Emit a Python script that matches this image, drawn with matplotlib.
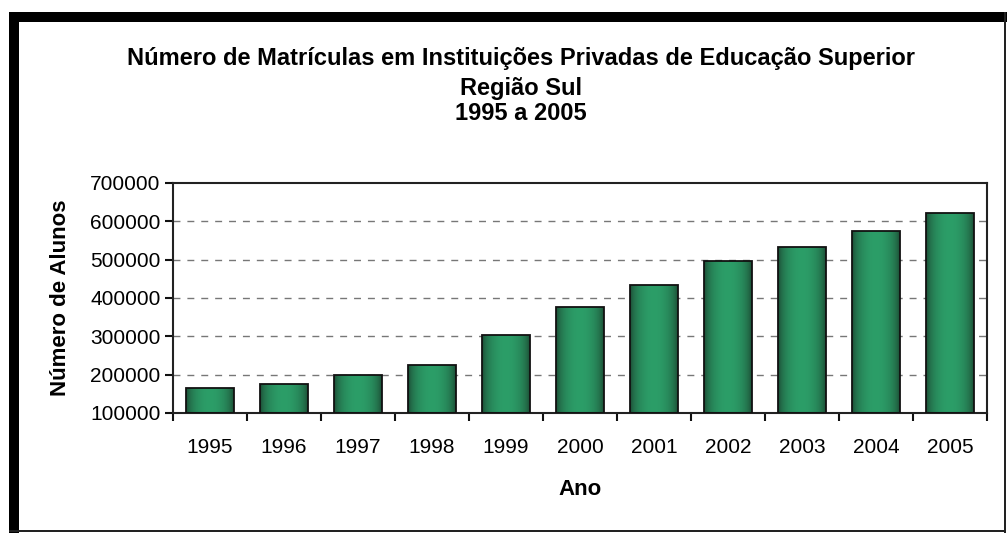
import numpy as np
import matplotlib
matplotlib.use('Agg')
from matplotlib import pyplot as plt
from matplotlib import font_manager
from matplotlib.patches import Rectangle

anos = ['1995', '1996', '1997', '1998', '1999', '2000',
        '2001', '2002', '2003', '2004', '2005']
alunos = [164000, 175000, 200000, 226000, 304000, 377000,
          434000, 497000, 534000, 574000, 622000]
yticks = [100000, 200000, 300000, 400000, 500000, 600000, 700000]

plt.rcParams['font.family'] = ['Liberation Sans', 'DejaVu Sans']
nomes = {f.name for f in font_manager.fontManager.ttflist}
narrow = 'Liberation Sans Narrow' in nomes
tit_fam = ['Liberation Sans Narrow', 'Liberation Sans'] if narrow else ['Liberation Sans']
tit_fs = 19.5 if narrow else 17

W, H = 1007, 533
fig = plt.figure(figsize=(W/100, H/100), dpi=100)
fig.patch.set_facecolor('white')

def px(x0, y0, x1, y1):
    # pixel box -> figure fraction rect
    return [x0/W, 1 - y1/H, (x1-x0)/W, (y1-y0)/H]

ax = fig.add_axes(px(173, 183, 987, 413))

x = np.arange(len(anos))
bw = 0.64
bars = ax.bar(x, np.array(alunos) - 100000, bw, bottom=100000,
              color='none', edgecolor='#111111', linewidth=1.3, zorder=3)

# gradiente horizontal: bordas escuras, meio mais claro
t = np.linspace(-1, 1, 256)
g = 1 - t**2
c_dark = np.array([0x1a, 0x42, 0x2e]) / 255
c_light = np.array([0x2c, 0x9e, 0x68]) / 255
grad = (c_dark[None, :] + (c_light - c_dark)[None, :] * g[:, None] ** 0.6)[None, :, :]
for b in bars:
    x0, y0 = b.get_x(), b.get_y()
    im = ax.imshow(grad, extent=[x0, x0 + b.get_width(), y0, y0 + b.get_height()],
                   aspect='auto', zorder=2, interpolation='bicubic')
    im.set_clip_path(b)

ax.set_xlim(-0.5, len(anos) - 0.5)
ax.set_ylim(100000, 700000)
ax.set_yticks(yticks)
ax.set_yticklabels([str(v) for v in yticks], fontsize=15)
ax.set_xticks(x)
ax.set_xticklabels(anos, fontsize=15)
ax.tick_params(axis='x', length=0, pad=18)
ax.set_xticks(np.arange(len(anos) + 1) - 0.5, minor=True)
ax.tick_params(axis='x', which='minor', length=6, width=1.5, direction='out', color='#111111')
ax.tick_params(axis='y', length=6, width=1.5, direction='out', color='#111111', pad=3)

for v in yticks[1:-1]:
    ax.axhline(v, color='#777777', linestyle=(0, (5, 5)), linewidth=1, zorder=1)

for s in ax.spines.values():
    s.set_linewidth(1.5)
    s.set_color('#222222')

ax.set_ylabel('Número de Alunos', fontsize=16, fontweight='bold', labelpad=14)
ax.set_xlabel('Ano', fontsize=16, fontweight='bold', labelpad=16, family=tit_fam)

fig.text(0.517, 1 - 58/H, 'Número de Matrículas em Instituições Privadas de Educação Superior',
         ha='center', va='center', fontsize=tit_fs, fontweight='bold', family=tit_fam)
fig.text(0.517, 1 - 88/H, 'Região Sul', ha='center', va='center',
         fontsize=tit_fs, fontweight='bold', family=tit_fam)
fig.text(0.517, 1 - 114/H, '1995 a 2005', ha='center', va='center',
         fontsize=tit_fs, fontweight='bold', family=tit_fam)

# moldura externa
for (x0, y0, x1, y1, c) in [(9, 12, 1007, 22, 'black'), (9, 12, 19, 533, 'black'),
                            (1004, 12, 1006, 533, '#222222'), (9, 530, 1006, 532, '#222222')]:
    r = px(x0, y0, x1, y1)
    fig.add_artist(Rectangle(r[:2], r[2], r[3], transform=fig.transFigure, color=c, lw=0))

fig.savefig('out.png', dpi=100)
